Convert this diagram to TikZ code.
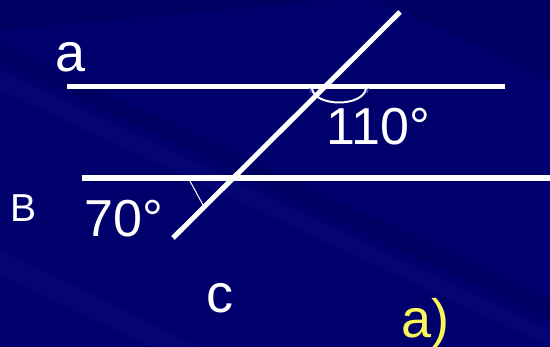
\documentclass[tikz,border=0pt]{standalone}
\usepackage{fontspec}
\setmainfont{Liberation Sans}
\definecolor{bgbase}{RGB}{0,0,108}
\definecolor{bgdark}{RGB}{0,0,98}
\definecolor{bglight}{RGB}{4,4,116}
\definecolor{labyellow}{RGB}{250,245,90}
\definecolor{tickblue}{RGB}{70,110,255}
\tikzset{
  geoline/.style={draw=white, line width=5pt, line cap=butt},
  thinmark/.style={draw=white, line width=1pt},
  arcmark/.style={draw=white, line width=2pt},
  lbl/.style={text=white, inner sep=0pt, anchor=base west, font=\fontsize{54}{54}\selectfont},
  numlbl/.style={lbl, font=\fontsize{52}{52}\selectfont},
}
\begin{document}
\begin{tikzpicture}[x=1pt,y=-1pt]
\useasboundingbox (0,0) rectangle (550,347);
% background
\fill[bgbase] (0,0) rectangle (550,347);
\fill[bgdark] (0,0) -- (330,0) -- (0,30) -- cycle;
\fill[bglight] (0,70) -- (550,330) -- (550,347) -- (0,90) -- cycle;
\fill[bgdark] (380,0) -- (550,0) -- (550,320) -- (423,260) -- (0,60) -- (0,40) -- cycle;
\fill[bgbase] (0,40) -- (380,0) -- (550,80) -- (550,300) -- (0,45) -- cycle;
\fill[bglight] (0,250) -- (200,347) -- (150,347) -- (0,275) -- cycle;
% coordinates
\coordinate (aL) at (67,86.5);
\coordinate (aR) at (505,86.5);
\coordinate (bL) at (82,178);
\coordinate (bR) at (550,178);
\coordinate (cB) at (173,238);
\coordinate (cT) at (400,12);
\coordinate (m1) at (190,181);
\coordinate (m2) at (203,205);
\coordinate (arcL) at (312,89);
\coordinate (arcR) at (366,89);
% lines
\draw[geoline] (aL) -- (aR);
\draw[geoline, line width=6pt] (bL) -- (bR);
\draw[geoline] (cB) -- (cT);
% angle marks
\draw[thinmark] (m1) -- (m2);
\draw[arcmark] (arcL) .. controls (316,107) and (362,107) .. (arcR);
\draw[tickblue, line width=0.8pt] (309.5,88) -- (311,93);
\draw[tickblue, line width=0.8pt] (368.5,88) -- (367,93);
% labels
\node[lbl] (la) at (55,72) {a};
\node[numlbl] (l110) at (326,145) {110°};
\node[lbl, font=\fontsize{39}{39}\selectfont] (lB) at (10,222) {B};
\node[numlbl] (l70) at (84,237) {70°};
\node[lbl] (lc) at (206,313) {c};
\node[lbl, text=labyellow] (lpart) at (401,338) {a)};
\end{tikzpicture}
\end{document}
